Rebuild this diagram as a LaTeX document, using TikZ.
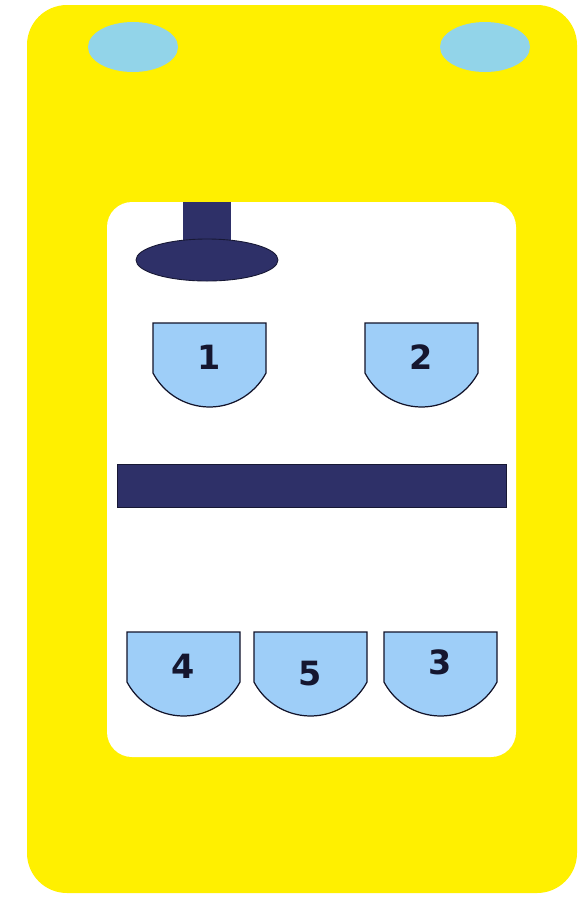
\documentclass[tikz,border=0pt]{standalone}
\usepackage{fontspec}
\setsansfont{DejaVu Sans}
\definecolor{bodyyellow}{RGB}{255,240,0}
\definecolor{lampblue}{RGB}{146,212,233}
\definecolor{navy}{RGB}{46,48,104}
\definecolor{cupblue}{RGB}{158,206,248}
\begin{document}
\begin{tikzpicture}[x=0.02cm,y=0.02cm,
        cup/.style ={draw=navy!40!black, fill=cupblue, line width=0.7pt},
        num/.style ={font=\sffamily\bfseries\fontsize{19}{22}\selectfont, text=navy!45!black, inner sep=0pt},
        dark/.style={fill=navy, draw=navy!50!black, line width=0.5pt}]
        \useasboundingbox (0,0) rectangle (585,-897);
        \fill[white] (0,0) rectangle (585,-897);
        \fill[bodyyellow, rounded corners=0.8cm] (27,-5) rectangle (577,-893);
        \foreach \x in {133,485} {\fill[lampblue] (\x,-47) ellipse [x radius=45, y radius=25];}
        \fill[white, rounded corners=0.5cm] (107,-202) rectangle (516,-757);
        \fill[navy] (183,-202) rectangle (231,-240);
        \draw[dark] (207,-260) ellipse [x radius=71, y radius=21];
        \draw[dark] (117,-464) rectangle (506,-507);
% Schalen: linke Kante / Oberkante / Nummer
        \foreach \x/\t/\l/\dy [count=\i from 0] in {153/323/1/0,365/323/2/0,127/632/4/0,254/632/5/8,384/632/3/-4}
           {\draw[cup] (\x,-\t) -- ++(0,-50) arc [start angle=208, end angle=332, radius=64] -- ++(0,50) -- cycle;
            \node[num] (c\i) at (\x+56.5,-\t-34-\dy) {\l};}
    \end{tikzpicture}
\end{document}
